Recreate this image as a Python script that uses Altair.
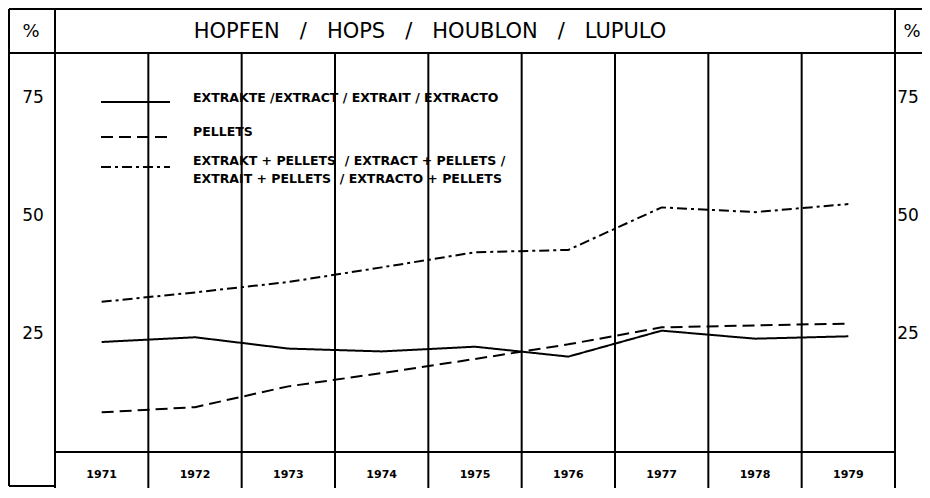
import altair as alt
import pandas as pd

# ---- data ----
years = [1971, 1972, 1973, 1974, 1975, 1976, 1977, 1978, 1979]
extract = [23.3, 24.3, 21.9, 21.3, 22.3, 20.2, 25.7, 24.0, 24.5]
pellets = [8.4, 9.5, 13.9, 16.7, 19.7, 22.8, 26.4, 26.8, 27.2]
combined = [31.8, 33.8, 36.0, 39.1, 42.3, 42.8, 51.8, 50.8, 52.5]
series_names = ["EXTRAKTE", "PELLETS", "EXTRAKT + PELLETS"]
y_ticks = [25, 50, 75]
SP = "\u00a0\u00a0\u00a0"
title_text = f"HOPFEN{SP}/{SP}HOPS{SP}/{SP}HOUBLON{SP}/{SP}LUPULO"
legend_lines = [
    "EXTRAKTE /EXTRACT / EXTRAIT / EXTRACTO",
    "PELLETS",
    "EXTRAKT + PELLETS\u00a0\u00a0/ EXTRACT + PELLETS /",
    "EXTRAIT + PELLETS\u00a0\u00a0/ EXTRACTO + PELLETS",
]

FONT = "DejaVu Sans"
W, H = 840, 399
xs = alt.Scale(domain=[1970.5, 1979.5])
ys = alt.Scale(domain=[0, 84.5])
dash_range = [[1, 0], [12, 6], [10, 4, 3, 4]]

rows = []
for name, vals in zip(series_names, [extract, pellets, combined]):
    for yr, v in zip(years, vals):
        rows.append({"year": yr, "value": v, "series": name})
df = pd.DataFrame(rows)

lines = alt.Chart(df).mark_line(color="black", strokeWidth=2).encode(
    x=alt.X("year:Q", scale=xs, axis=None),
    y=alt.Y("value:Q", scale=ys, axis=None),
    strokeDash=alt.StrokeDash("series:N", scale=alt.Scale(domain=series_names, range=dash_range), legend=None),
)

bounds = pd.DataFrame({"b": [y - 0.5 for y in years] + [years[-1] + 0.5]})
inner = alt.Chart(bounds).transform_filter("datum.b > 1971 && datum.b < 1979").mark_rule(
    color="black", strokeWidth=2).encode(
    x=alt.X("b:Q", scale=xs, axis=None), y=alt.value(0), y2=alt.value(450))
outer = alt.Chart(bounds).transform_filter("datum.b < 1971 || datum.b > 1979").mark_rule(
    color="black", strokeWidth=2).encode(
    x=alt.X("b:Q", scale=xs, axis=None), y=alt.value(-45), y2=alt.value(450))

frame_df = pd.DataFrame({"k": ["top", "header", "bottom", "left", "leftbox"]})
def hline(k, x1, x2, yv):
    return alt.Chart(frame_df).transform_filter(f"datum.k == '{k}'").mark_rule(
        color="black", strokeWidth=2).encode(x=alt.value(x1), x2=alt.value(x2), y=alt.value(yv))

top_line = hline("top", -46, 880, -44)
header_line = hline("header", -46, 880, 0)
bottom_line = hline("bottom", 0, W, H)
leftbox_line = hline("leftbox", -46, 0, 433)
left_line = alt.Chart(frame_df).transform_filter("datum.k == 'left'").mark_rule(
    color="black", strokeWidth=2).encode(x=alt.value(-46), y=alt.value(-44), y2=alt.value(433))

title_df = pd.DataFrame({"t": [title_text]})
title = alt.Chart(title_df).mark_text(font=FONT, fontSize=21, color="black", align="center",
                                      baseline="middle").encode(
    x=alt.value(375), y=alt.value(-21), text="t:N")

pct_df = pd.DataFrame({"t": ["%"]})
pct_left = alt.Chart(pct_df).mark_text(font=FONT, fontSize=18, color="black", baseline="middle").encode(
    x=alt.value(-24), y=alt.value(-21), text="t:N")
pct_right = alt.Chart(pct_df).mark_text(font=FONT, fontSize=18, color="black", baseline="middle").encode(
    x=alt.value(857), y=alt.value(-21), text="t:N")

tick_df = pd.DataFrame({"v": y_ticks})
tick_left = alt.Chart(tick_df).mark_text(font=FONT, fontSize=17, color="black", baseline="middle").encode(
    x=alt.value(-22), y=alt.Y("v:Q", scale=ys, axis=None), text="v:Q")
tick_right = alt.Chart(tick_df).mark_text(font=FONT, fontSize=17, color="black", baseline="middle").encode(
    x=alt.value(853), y=alt.Y("v:Q", scale=ys, axis=None), text="v:Q")

year_df = pd.DataFrame({"year": years, "lab": [str(y) for y in years]})
year_labels = alt.Chart(year_df).mark_text(font=FONT, fontSize=11, fontWeight="bold", color="black",
                                           baseline="middle").encode(
    x=alt.X("year:Q", scale=xs, axis=None), y=alt.value(422), text="lab:N")

# legend
leg_df = pd.DataFrame({"series": series_names, "ly": [49, 84, 114]})
leg_lines = alt.Chart(leg_df).mark_rule(color="black", strokeWidth=2).encode(
    x=alt.value(46), x2=alt.value(115), y=alt.Y("ly:Q", scale=alt.Scale(domain=[0, H], range=[0, H]), axis=None),
    strokeDash=alt.StrokeDash("series:N", scale=alt.Scale(domain=series_names, range=dash_range), legend=None),
)
legtxt_df = pd.DataFrame({"t": legend_lines, "ty": [45, 79, 108, 126]})
leg_text = alt.Chart(legtxt_df).mark_text(font=FONT, fontSize=12.5, fontWeight="bold", color="black",
                                          align="left", baseline="middle").encode(
    x=alt.value(138), y=alt.Y("ty:Q", scale=alt.Scale(domain=[0, H], range=[0, H]), axis=None), text="t:N")

chart = alt.layer(
    inner, outer, top_line, header_line, bottom_line, leftbox_line, left_line,
    lines, leg_lines, leg_text, title, pct_left, pct_right, tick_left, tick_right, year_labels,
).properties(
    width=W, height=H,
    autosize=alt.AutoSizeParams(type="none"),
    padding={"left": 47, "top": 45, "right": 27, "bottom": 36},
).configure_view(stroke=None).resolve_scale(y="independent")

chart.save("out.html", embed_options={"renderer": "svg", "actions": False})
